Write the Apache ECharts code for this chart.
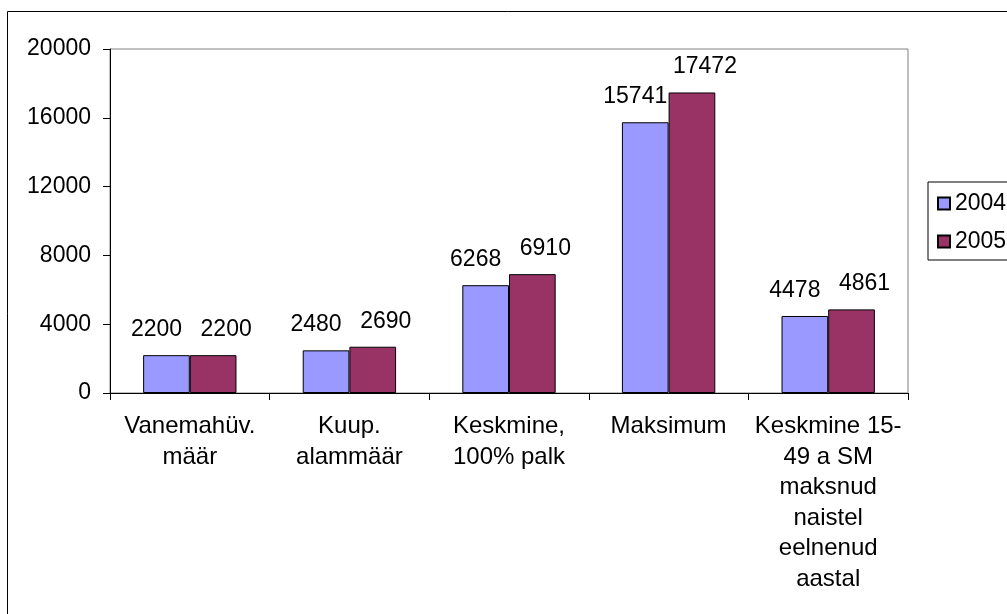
<!DOCTYPE html>
<html>
<head>
<meta charset="utf-8">
<script src="https://cdn.jsdelivr.net/npm/echarts@6/dist/echarts.min.js"></script>
<style>
  html, body { margin: 0; padding: 0; background: #fff; }
  #chart { width: 1007px; height: 614px; }
</style>
</head>
<body>
<div id="chart"></div>
<script>
var categories = [
    'Vanemahüv.\nmäär',
    'Kuup.\nalammäär',
    'Keskmine,\n100% palk',
    'Maksimum',
    'Keskmine 15-\n49 a SM\nmaksnud\nnaistel\neelnenud\naastal'
];
var seriesNames = ['2004', '2005'];
var values2004 = [2200, 2480, 6268, 15741, 4478];
var values2005 = [2200, 2690, 6910, 17472, 4861];
var colors = ['#9999FF', '#993366'];

var font = 'Arial, "Liberation Sans", sans-serif';

function makeSeries(name, data, color, dx){
    return {
        name: name,
        type: 'bar',
        data: data,
        barGap: '0%',
        barCategoryGap: '41.5%',
        itemStyle: { color: color, borderColor: '#000', borderWidth: 1 },
        label: {
            show: true,
            position: 'top',
            distance: 14,
            offset: [dx, 0],
            color: '#000',
            fontSize: 23,
            fontFamily: font
        }
    };
}

var chart = echarts.init(document.getElementById('chart'), null, { renderer: 'canvas' });
chart.setOption({
    animation: false,
    backgroundColor: '#fff',
    textStyle: { fontFamily: font },
    graphic: [{
        type: 'rect',
        shape: { x: 7.5, y: 11.5, width: 1100, height: 700 },
        style: { fill: 'none', stroke: '#000', lineWidth: 1 },
        silent: true
    }],
    grid: {
        left: 110, top: 49, right: 99, bottom: 221,
        show: true, borderColor: '#808080', borderWidth: 1,
        backgroundColor: 'transparent'
    },
    legend: {
        orient: 'vertical',
        left: 928, top: 182,
        padding: [10, 40, 7, 9],
        itemWidth: 12, itemHeight: 12, itemGap: 15,
        icon: 'rect',
        borderColor: '#000', borderWidth: 1,
        textStyle: { fontSize: 23, color: '#000', lineHeight: 22, fontFamily: font },
        data: seriesNames
    },
    xAxis: {
        type: 'category',
        data: categories,
        axisLine: { lineStyle: { color: '#000', width: 1 } },
        axisTick: { show: true, length: 7, lineStyle: { color: '#000' } },
        axisLabel: {
            interval: 0, margin: 18, color: '#000',
            fontSize: 24, lineHeight: 30.6, fontFamily: font, align: 'center'
        },
        splitLine: { show: false }
    },
    yAxis: {
        type: 'value',
        min: 0, max: 20000, interval: 4000,
        axisLine: { show: true, lineStyle: { color: '#000', width: 1 } },
        axisTick: { show: true, length: 7, lineStyle: { color: '#000' } },
        axisLabel: {
            margin: 19, color: '#000', fontSize: 23, fontFamily: font,
            formatter: function(v){ return String(v); }
        },
        splitLine: { show: false }
    },
    series: [
        makeSeries(seriesNames[0], values2004, colors[0], -10),
        makeSeries(seriesNames[1], values2005, colors[1], 13)
    ]
});
</script>
</body>
</html>
